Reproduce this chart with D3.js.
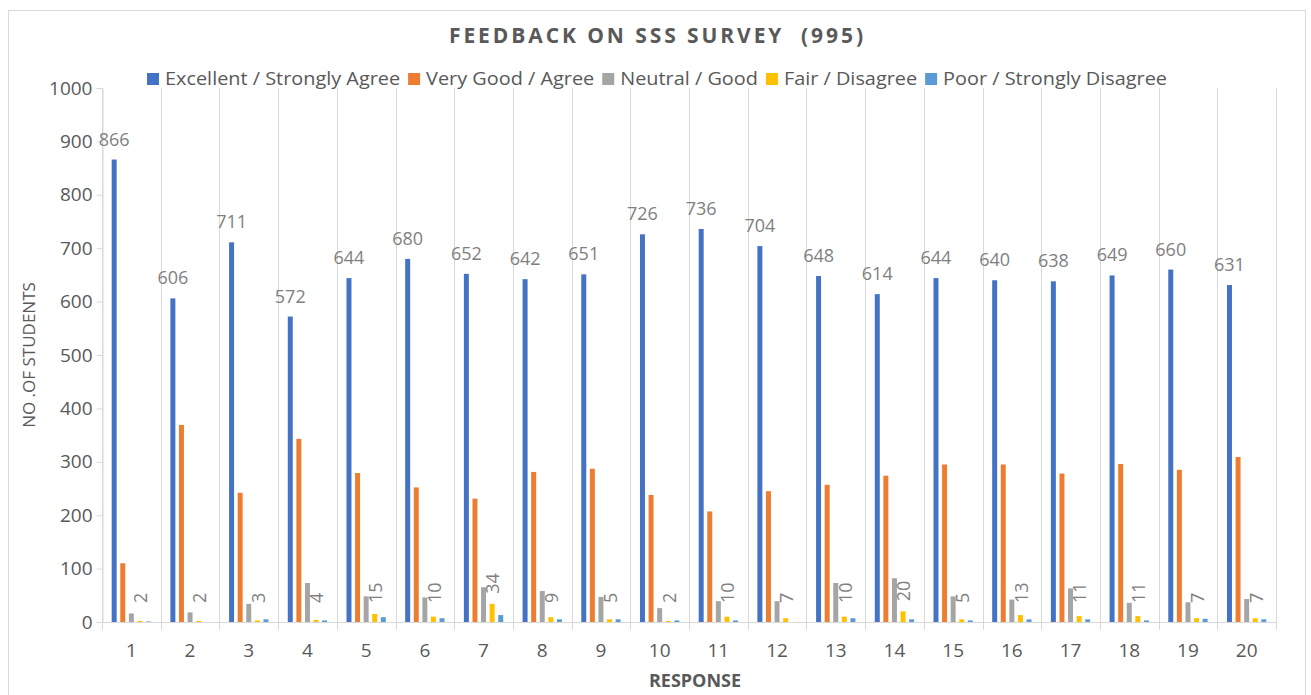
<!DOCTYPE html>
<html>
<head>
<meta charset="utf-8">
<script src="https://cdn.jsdelivr.net/npm/d3@7"></script>
<style>
  html, body { margin: 0; padding: 0; background: #ffffff; }
  svg { display: block; font-family: "Open Sans", "DejaVu Sans", sans-serif; }
</style>
</head>
<body>
<svg id="chart" width="1311" height="695"></svg>
<script>
// ---------- DATA ----------
const categories = ["1","2","3","4","5","6","7","8","9","10","11","12","13","14","15","16","17","18","19","20"];
const seriesNames = ["Excellent / Strongly Agree", "Very Good / Agree", "Neutral / Good", "Fair / Disagree", "Poor / Strongly Disagree"];
const excellent = [866, 606, 711, 572, 644, 680, 652, 642, 651, 726, 736, 704, 648, 614, 644, 640, 638, 649, 660, 631];
const veryGood  = [110, 369, 242, 343, 279, 252, 231, 281, 287, 238, 207, 245, 257, 274, 295, 295, 278, 296, 285, 309];
const neutral   = [16, 18, 34, 73, 48, 46, 65, 58, 47, 26, 39, 39, 73, 82, 48, 42, 63, 36, 37, 43];
const fair      = [2, 2, 3, 4, 15, 10, 34, 9, 5, 2, 10, 7, 10, 20, 5, 13, 11, 11, 7, 7];
const poor      = [1, 0, 5, 3, 9, 7, 13, 5, 5, 3, 3, 0, 7, 5, 3, 5, 5, 3, 6, 5];
const yTicks    = [0, 100, 200, 300, 400, 500, 600, 700, 800, 900, 1000];
const titleText = "FEEDBACK ON SSS SURVEY  (995)";
const yTitle = "NO .OF STUDENTS";
const xTitle = "RESPONSE";

// ---------- STYLE ----------
const colors = ["#4472C4", "#ED7D31", "#A5A5A5", "#FFC000", "#5B9BD5"];
const textColor = "#595959";
const labelColor = "#7f7f7f";
const gridColor = "#d9d9d9";

const seriesValues = [excellent, veryGood, neutral, fair, poor];

const svg = d3.select("#chart");
const plot = { left: 102, right: 1276, top: 88, bottom: 622 };

// outer border
svg.append("rect").attr("x", 8.5).attr("y", 10.5).attr("width", 1297).attr("height", 700)
  .attr("fill", "#fff").attr("stroke", "#d9d9d9").attr("stroke-width", 1);

const x = d3.scaleBand().domain(categories).range([plot.left, plot.right]).padding(0);
const bw = x.bandwidth();
const xs = d3.scaleBand().domain(d3.range(seriesNames.length))
  .range([bw * 0.165, bw * 0.835]).paddingInner(0.42).paddingOuter(0);
const y = d3.scaleLinear().domain([0, 1000]).range([plot.bottom, plot.top]);

// vertical gridlines at category boundaries
const bounds = categories.map(c => x(c)).concat([plot.right]);
svg.append("g").selectAll("line").data(bounds).join("line")
  .attr("x1", d => Math.round(d) + 0.5).attr("x2", d => Math.round(d) + 0.5)
  .attr("y1", plot.top).attr("y2", plot.bottom)
  .attr("stroke", gridColor).attr("stroke-width", 1);

// y axis
const yAxis = d3.axisLeft(y).tickValues(yTicks).tickFormat(d3.format("d")).tickSize(6).tickPadding(4);
const gy = svg.append("g").attr("transform", `translate(${plot.left + 0.5},0)`).call(yAxis);
gy.select(".domain").attr("stroke", gridColor);
gy.selectAll(".tick line").attr("stroke", gridColor);
gy.selectAll(".tick text").attr("fill", textColor).attr("font-size", 19)
  .attr("font-family", '"Open Sans", sans-serif');

// x axis line + ticks at boundaries
svg.append("line").attr("x1", plot.left).attr("x2", plot.right)
  .attr("y1", plot.bottom + 0.5).attr("y2", plot.bottom + 0.5).attr("stroke", gridColor);
svg.append("g").selectAll("line").data(bounds).join("line")
  .attr("x1", d => Math.round(d) + 0.5).attr("x2", d => Math.round(d) + 0.5)
  .attr("y1", plot.bottom).attr("y2", plot.bottom + 8)
  .attr("stroke", gridColor);
svg.append("g").selectAll("text").data(categories).join("text")
  .attr("x", d => x(d) + bw / 2).attr("y", plot.bottom + 28)
  .attr("dy", "0.35em").attr("text-anchor", "middle")
  .attr("font-size", 19).attr("fill", textColor).text(d => d);

// bars
const barData = [];
seriesValues.forEach((vals, si) => {
  vals.forEach((v, ci) => barData.push({ s: si, c: categories[ci], v }));
});
svg.append("g").selectAll("rect").data(barData).join("rect")
  .attr("x", d => x(d.c) + xs(d.s))
  .attr("width", xs.bandwidth())
  .attr("y", d => y(d.v))
  .attr("height", d => y(0) - y(d.v))
  .attr("fill", d => colors[d.s]);

// labels on Excellent bars
svg.append("g").selectAll("text").data(excellent).join("text")
  .attr("x", (d, i) => x(categories[i]) + xs(0) + xs.bandwidth() / 2)
  .attr("y", d => y(d) - 14)
  .attr("text-anchor", "middle").attr("font-size", 18).attr("fill", labelColor)
  .text(d => d);

// rotated labels on Fair bars
svg.append("g").selectAll("text").data(fair).join("text")
  .attr("transform", (d, i) => {
    const cx = x(categories[i]) + xs(3) + xs.bandwidth() / 2 + 1;
    const by = Math.min(y(d) - 10, y(0) - 19);
    return `translate(${cx},${by}) rotate(-90)`;
  })
  .attr("dy", "0.35em").attr("text-anchor", "start")
  .attr("font-size", 18).attr("fill", labelColor)
  .text(d => d);

// title
svg.append("text").attr("x", 656).attr("y", 36).attr("dy", "0.35em")
  .attr("text-anchor", "middle").attr("font-size", 21).attr("font-weight", "bold")
  .attr("fill", textColor)
  .attr("xml:space", "preserve").style("white-space", "pre")
  .attr("textLength", 414).attr("lengthAdjust", "spacing")
  .text(titleText);

// legend
const legend = svg.append("g");
const items = legend.selectAll("g").data(seriesNames).join("g");
items.append("rect").attr("width", 12).attr("height", 12).attr("y", -6)
  .attr("fill", (d, i) => colors[i]);
const ltexts = items.append("text").attr("x", 18).attr("dy", "0.35em").attr("font-size", 18)
  .attr("fill", textColor).text(d => d);
const gap = 8, boxW = 18;
const naturalW = ltexts.nodes().map(n => n.getComputedTextLength());
const targetTotal = 1020;
const fixedW = seriesNames.length * boxW + (seriesNames.length - 1) * gap;
const k = (targetTotal - fixedW) / d3.sum(naturalW);
let cursor = 0;
const offsets = [];
naturalW.forEach(w => { offsets.push(cursor); cursor += boxW + w * k + gap; });
ltexts.attr("textLength", (d, i) => naturalW[i] * k).attr("lengthAdjust", "spacingAndGlyphs");
const startX = 657 - targetTotal / 2;
items.attr("transform", (d, i) => `translate(${startX + offsets[i]},79)`);

// axis titles
svg.append("text").attr("transform", `translate(29,${(plot.top + plot.bottom) / 2}) rotate(-90)`)
  .attr("dy", "0.35em").attr("text-anchor", "middle").attr("font-size", 17)
  .attr("fill", textColor).text(yTitle);
svg.append("text").attr("x", 695).attr("y", 681).attr("dy", "0.35em")
  .attr("text-anchor", "middle").attr("font-size", 18).attr("font-weight", "bold")
  .attr("fill", textColor).text(xTitle);
</script>
</body>
</html>
